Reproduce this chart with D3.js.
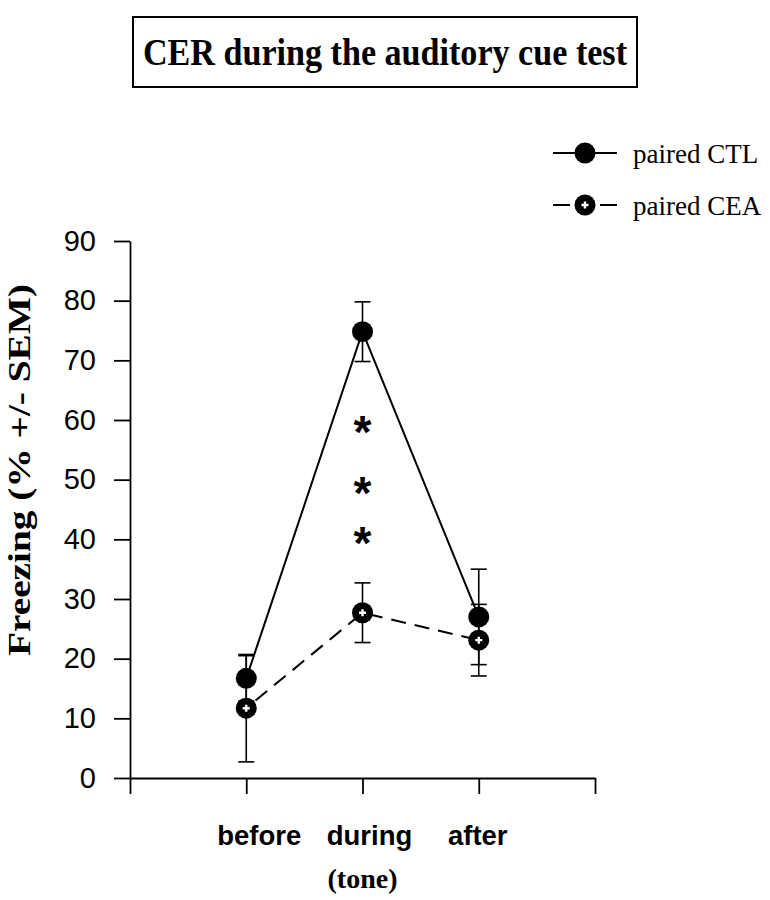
<!DOCTYPE html>
<html><head><meta charset="utf-8">
<script src="https://cdn.jsdelivr.net/npm/d3@7"></script>
<style>body{margin:0;background:#fff}</style>
</head><body>
<svg id="c" width="770" height="900"></svg>
<script>
const categories = ["before", "during", "after"];
const ctlMean = [16.7, 74.8, 27.0];
const ctlSem  = [3.8, 5.0, 8.0];
const ceaMean = [11.7, 27.7, 23.1];
const ceaSem  = [9.0, 5.0, 6.0];
const yTicks = [0, 10, 20, 30, 40, 50, 60, 70, 80, 90];
const starLevels = [58.8, 48.7, 40.2];
const title = "CER during the auditory cue test";
const yLabel = "Freezing (% +/- SEM)";
const legendLabels = ["paired CTL", "paired CEA"];

const svg = d3.select("#c");
const x = d3.scaleLinear().domain([0, 4]).range([130, 595]);
const y = d3.scaleLinear().domain([0, 90]).range([778, 241]);
const pos = i => x(i + 1);
const serif = "Liberation Serif, Times New Roman, serif";
const sans = "Liberation Sans, Arial, sans-serif";

// Title box
svg.append("rect").attr("x", 133).attr("y", 17).attr("width", 504).attr("height", 70)
  .attr("fill", "none").attr("stroke", "#000").attr("stroke-width", 2);
svg.append("text").attr("x", 143).attr("y", 65)
  .attr("font-family", serif).attr("font-weight", "bold")
  .attr("font-size", 37).attr("textLength", 484).attr("lengthAdjust", "spacingAndGlyphs").text(title);

// Axes
const yAxis = svg.append("g").attr("transform", "translate(130,0)")
  .call(d3.axisLeft(y).tickValues(yTicks).tickSize(16).tickSizeOuter(0).tickPadding(18));
const xAxis = svg.append("g").attr("transform", "translate(0,778)")
  .call(d3.axisBottom(x).tickValues([0, 1, 2, 3, 4]).tickFormat("").tickSize(16).tickSizeOuter(0));
[yAxis, xAxis].forEach(g => {
  g.selectAll("path,line").attr("stroke", "#000").attr("stroke-width", 1.8);
});
yAxis.selectAll("text").attr("font-family", sans)
  .attr("font-size", 29).attr("fill", "#000");

// Y label
svg.append("text").attr("transform", "translate(30,470) rotate(-90)").attr("text-anchor", "middle")
  .attr("font-family", serif).attr("font-weight", "bold")
  .attr("font-size", 32).attr("textLength", 372).attr("lengthAdjust", "spacingAndGlyphs").text(yLabel);

// X category labels
const dxs = [13, 7, -1];
svg.selectAll("text.cat").data(categories).join("text").attr("class", "cat")
  .attr("x", (d, i) => pos(i) + dxs[i]).attr("y", 845).attr("text-anchor", "middle")
  .attr("font-family", sans).attr("font-weight", "bold")
  .attr("font-size", 27.5).text(d => d);
svg.append("text").attr("x", pos(1)).attr("y", 888).attr("text-anchor", "middle")
  .attr("font-family", serif).attr("font-weight", "bold")
  .attr("font-size", 28).text("(tone)");

// Error bars
function errBars(mean, sem) {
  const g = svg.append("g").attr("stroke", "#000").attr("stroke-width", 1.6);
  mean.forEach((m, i) => {
    const cx = pos(i);
    g.append("line").attr("x1", cx).attr("x2", cx).attr("y1", y(m - sem[i])).attr("y2", y(m + sem[i]));
    [m - sem[i], m + sem[i]].forEach(v => {
      g.append("line").attr("x1", cx - 8).attr("x2", cx + 8).attr("y1", y(v)).attr("y2", y(v));
    });
  });
}
errBars(ctlMean, ctlSem);
errBars(ceaMean, ceaSem);

// Lines
const line = d3.line().x((d, i) => pos(i)).y(d => y(d));
svg.append("path").attr("d", line(ctlMean)).attr("fill", "none").attr("stroke", "#000").attr("stroke-width", 2);
svg.append("path").attr("d", line(ceaMean)).attr("fill", "none").attr("stroke", "#000").attr("stroke-width", 2)
  .attr("stroke-dasharray", "15,9").attr("stroke-dashoffset", -12);

// Markers
function ctlMarker(g, cx, cy) {
  g.append("circle").attr("cx", cx).attr("cy", cy).attr("r", 10.5).attr("fill", "#000");
}
function ceaMarker(g, cx, cy) {
  g.append("circle").attr("cx", cx).attr("cy", cy).attr("r", 10.5).attr("fill", "#000");
  g.append("path").attr("d", `M${cx - 3.5},${cy}H${cx + 3.5}M${cx},${cy - 3.5}V${cy + 3.5}`)
    .attr("stroke", "#fff").attr("stroke-width", 2.4);
}
const mk = svg.append("g");
ctlMean.forEach((m, i) => ctlMarker(mk, pos(i), y(m)));
ceaMean.forEach((m, i) => ceaMarker(mk, pos(i), y(m)));

// Asterisks
svg.selectAll("text.star").data(starLevels).join("text").attr("class", "star")
  .attr("x", pos(1)).attr("y", d => y(d)).attr("dy", "0.46em").attr("text-anchor", "middle")
  .attr("font-family", sans).attr("font-weight", "bold")
  .attr("font-size", 46).text("*");

// Legend
const lg = svg.append("g");
[0, 1].forEach(k => {
  const ly = 153 + k * 52;
  if (k === 0) {
    lg.append("line").attr("x1", 553).attr("x2", 617).attr("y1", ly).attr("y2", ly).attr("stroke", "#000").attr("stroke-width", 2);
    ctlMarker(lg, 585, ly);
  } else {
    lg.append("line").attr("x1", 553).attr("x2", 570).attr("y1", ly).attr("y2", ly).attr("stroke", "#000").attr("stroke-width", 2);
    lg.append("line").attr("x1", 600).attr("x2", 617).attr("y1", ly).attr("y2", ly).attr("stroke", "#000").attr("stroke-width", 2);
    ceaMarker(lg, 585, ly);
  }
  lg.append("text").attr("x", 633).attr("y", ly + 10)
    .attr("font-family", serif).attr("font-size", 27)
    .text(legendLabels[k]);
});
</script>
</body></html>
